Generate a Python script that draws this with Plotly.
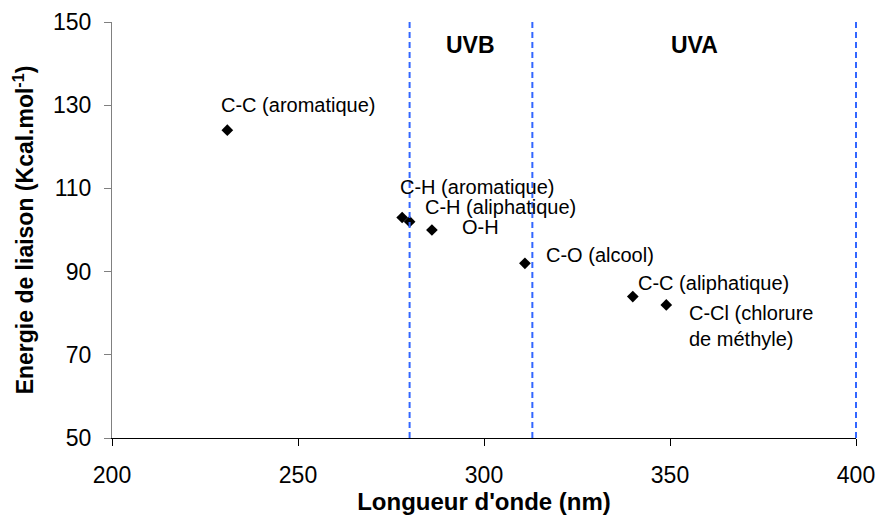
import plotly.graph_objects as go

# Data
labels = ["C-C (aromatique)", "C-H (aromatique)", "C-H (aliphatique)", "O-H",
          "C-O (alcool)", "C-C (aliphatique)", "C-Cl (chlorure<br>de méthyle)"]
wavelength = [231, 278, 280, 286, 311, 340, 349]
energy = [124, 103, 102, 100, 92, 84, 82]
boundaries = [280, 313, 400]
band_names = ["UVB", "UVA"]
band_centers = [296.5, 356.5]
x_range = [200, 400]
y_range = [50, 150]

# label offsets in pixels (style)
offsets = [(-8, 25), (-4, 31), (13, 15), (28, 3), (19, 8), (3, 14), (21, -21)]

FONT = "Liberation Sans, Arial, sans-serif"

fig = go.Figure()
fig.add_trace(go.Scatter(
    x=wavelength, y=energy, mode="markers",
    marker=dict(symbol="diamond", size=9, color="black"),
    showlegend=False, hoverinfo="x+y"))

for b in boundaries:
    px = (b - x_range[0]) / (x_range[1] - x_range[0])
    fig.add_shape(type="line", xref="paper", yref="paper", x0=px, x1=px, y0=0, y1=1,
                  line=dict(color="#3366FF", width=2, dash="6px,4px"))

for lab, xv, yv, (dx, dy) in zip(labels, wavelength, energy, offsets):
    fig.add_annotation(x=xv, y=yv, text=lab, showarrow=False, xanchor="left",
                       yanchor="middle", align="left", xshift=dx, yshift=dy,
                       font=dict(family=FONT, size=20, color="black"))

for name, c in zip(band_names, band_centers):
    fig.add_annotation(x=c, y=y_range[1], text="<b>" + name + "</b>", showarrow=False,
                       xanchor="center", yanchor="middle", yshift=-23,
                       font=dict(family=FONT, size=23, color="black"))

fig.update_layout(
    width=879, height=532,
    margin=dict(l=112, r=23, t=22, b=94),
    plot_bgcolor="white", paper_bgcolor="white",
    font=dict(family=FONT, size=22, color="black"),
)
fig.update_xaxes(
    range=x_range, tickmode="linear", tick0=200, dtick=50,
    showgrid=False, zeroline=False, showline=True, linecolor="black", linewidth=1,
    ticks="outside", ticklen=7, tickcolor="black", ticklabelstandoff=9,
    automargin=False,
    tickfont=dict(family=FONT, size=23, color="black"),
    title=dict(text="<b>Longueur d'onde (nm)</b>", font=dict(family=FONT, size=24), standoff=4),
)
fig.update_yaxes(
    range=y_range, tickmode="linear", tick0=50, dtick=20,
    showgrid=False, zeroline=False, showline=True, linecolor="#808080", linewidth=1,
    ticks="outside", ticklen=7, tickcolor="#808080", ticklabelstandoff=8,
    automargin=False,
    tickfont=dict(family=FONT, size=23, color="black"),
    title=dict(text="<b>Energie de liaison (Kcal.mol<sup>-1</sup>)</b>", font=dict(family=FONT, size=23), standoff=12),
)

fig.write_html("out.html", config={"displayModeBar": False},
               post_script="document.body.style.margin='0';document.body.style.overflow='hidden';")
